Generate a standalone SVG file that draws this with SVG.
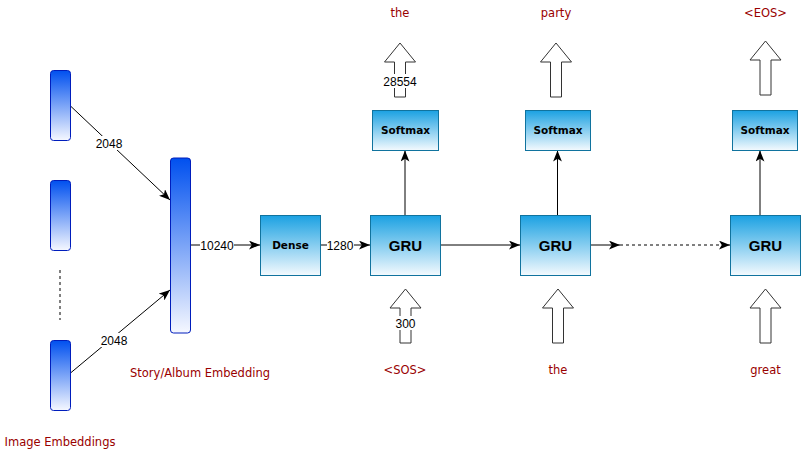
<svg xmlns="http://www.w3.org/2000/svg" width="801" height="461" viewBox="0 0 801 461">
  <defs>
    <linearGradient id="boxGrad" x1="0" y1="0" x2="0" y2="1">
      <stop offset="0" stop-color="#1BA1E2"/>
      <stop offset="1" stop-color="#F4FAFE"/>
    </linearGradient>
    <linearGradient id="barGrad" x1="0" y1="0" x2="0" y2="1">
      <stop offset="0" stop-color="#0050EF"/>
      <stop offset="1" stop-color="#F6F8FF"/>
    </linearGradient>
    <marker id="arrow" markerUnits="userSpaceOnUse" markerWidth="11" markerHeight="9" refX="10" refY="4" orient="auto" viewBox="0 0 10 8">
      <path d="M0,0 L10,4 L0,8 L2.5,4 Z" fill="#000"/>
    </marker>
    <path id="blockArrow" d="M0,0 L15.5,19 L5.5,19 L5.5,54 L-5.5,54 L-5.5,19 L-15.5,19 Z"/>
  </defs>
  <style>
    .bar { fill: url(#barGrad); stroke: #001DBC; stroke-width: 1; }
    .box { fill: url(#boxGrad); stroke: #10739E; stroke-width: 1; }
    .conn { stroke: #000; stroke-width: 1; fill: none; }
    .bigarrow { fill: #fff; stroke: #333; stroke-width: 1; }
    .red { font-family: "DejaVu Sans", sans-serif; font-size: 11.5px; fill: #990000; text-anchor: middle; }
    .num { font-family: "Liberation Sans", Arial, sans-serif; font-size: 12px; fill: #000; text-anchor: middle; }
    .small { font-family: "DejaVu Sans", sans-serif; font-size: 10.5px; font-weight: bold; fill: #000; text-anchor: middle; }
    .gru { font-family: "Liberation Sans", Arial, sans-serif; font-size: 15px; font-weight: bold; fill: #000; text-anchor: middle; }
    .bg { fill: #fff; }
  </style>

  <rect width="801" height="461" fill="#fff"/>

  <!-- connectors -->
  <g id="connectors">
    <line class="conn" x1="70.5" y1="106" x2="170" y2="200" stroke="#555" marker-end="url(#arrow)"/>
    <rect class="bg" x="93" y="136" width="32" height="14"/>
    <text class="num" x="109" y="147.5">2048</text>

    <line class="conn" x1="70.5" y1="373" x2="170" y2="290" marker-end="url(#arrow)"/>
    <rect class="bg" x="98" y="333" width="32" height="14"/>
    <text class="num" x="114" y="344.5">2048</text>

    <line class="conn" x1="190" y1="245" x2="260" y2="245" marker-end="url(#arrow)"/>
    <rect class="bg" x="200" y="238" width="34" height="14"/>
    <text class="num" x="217" y="249.5">10240</text>

    <line class="conn" x1="320.5" y1="245" x2="370" y2="245" marker-end="url(#arrow)"/>
    <rect class="bg" x="327" y="238" width="27" height="14"/>
    <text class="num" x="340" y="249.5">1280</text>

    <line class="conn" x1="440.5" y1="245" x2="520" y2="245" marker-end="url(#arrow)"/>
    <line class="conn" x1="590.5" y1="245" x2="620" y2="245" marker-end="url(#arrow)"/>
    <line class="conn" x1="620" y1="245" x2="730" y2="245" stroke-dasharray="3,3" marker-end="url(#arrow)"/>

    <line class="conn" x1="405" y1="215" x2="405" y2="150.5" marker-end="url(#arrow)"/>
    <line class="conn" x1="557.5" y1="215" x2="557.5" y2="150.5" marker-end="url(#arrow)"/>
    <line class="conn" x1="760" y1="215" x2="760" y2="150.5" marker-end="url(#arrow)"/>

    <line x1="60" y1="270" x2="60" y2="320" stroke="#000" stroke-width="1" stroke-dasharray="3,3"/>
  </g>

  <!-- image embedding bars -->
  <g id="img-emb-1"><rect class="bar" x="50.5" y="70.5" width="20" height="70" rx="3"/></g>
  <g id="img-emb-2"><rect class="bar" x="50.5" y="180.5" width="20" height="70" rx="3"/></g>
  <g id="img-emb-n"><rect class="bar" x="50.5" y="340.5" width="20" height="70" rx="3"/></g>
  <g id="image-embeddings-label"><text class="red" x="60" y="446">Image Embeddings</text></g>

  <!-- story embedding -->
  <g id="story-emb">
    <rect class="bar" x="170.5" y="158" width="20" height="175" rx="3"/>
    <text class="red" x="200" y="377">Story/Album Embedding</text>
  </g>

  <!-- dense -->
  <g id="dense">
    <rect class="box" x="260.5" y="215.5" width="60" height="60"/>
    <text class="small" x="290.5" y="249">Dense</text>
  </g>

  <!-- GRUs -->
  <g id="gru1">
    <rect class="box" x="370.5" y="215.5" width="70" height="60"/>
    <text class="gru" x="405.5" y="251">GRU</text>
  </g>
  <g id="gru2">
    <rect class="box" x="520.5" y="215.5" width="70" height="60"/>
    <text class="gru" x="555.5" y="251">GRU</text>
  </g>
  <g id="gru3">
    <rect class="box" x="730.5" y="215.5" width="70" height="60"/>
    <text class="gru" x="765.5" y="251">GRU</text>
  </g>

  <!-- softmax -->
  <g id="softmax1">
    <rect class="box" x="372.5" y="110.5" width="66" height="40"/>
    <text class="small" x="405.5" y="134">Softmax</text>
  </g>
  <g id="softmax2">
    <rect class="box" x="525.5" y="110.5" width="65" height="40"/>
    <text class="small" x="558" y="134">Softmax</text>
  </g>
  <g id="softmax3">
    <rect class="box" x="732.5" y="110.5" width="65" height="40"/>
    <text class="small" x="765" y="134">Softmax</text>
  </g>

  <!-- output block arrows -->
  <g id="out1">
    <use href="#blockArrow" class="bigarrow" x="400" y="43"/>
    <rect class="bg" x="382" y="74" width="36" height="14"/>
    <text class="num" x="400" y="85.5">28554</text>
    <text class="red" x="400" y="17">the</text>
  </g>
  <g id="out2">
    <use href="#blockArrow" class="bigarrow" x="556" y="43"/>
    <text class="red" x="556" y="17">party</text>
  </g>
  <g id="out3">
    <use href="#blockArrow" class="bigarrow" x="765.5" y="41"/>
    <text class="red" x="765.5" y="17">&lt;EOS&gt;</text>
  </g>

  <!-- input block arrows -->
  <g id="in1">
    <use href="#blockArrow" class="bigarrow" x="405.5" y="289"/>
    <rect class="bg" x="393" y="316" width="25" height="14"/>
    <text class="num" x="405.5" y="327.5">300</text>
    <text class="red" x="405" y="374">&lt;SOS&gt;</text>
  </g>
  <g id="in2">
    <use href="#blockArrow" class="bigarrow" x="558" y="289"/>
    <text class="red" x="558" y="374">the</text>
  </g>
  <g id="in3">
    <use href="#blockArrow" class="bigarrow" x="765.5" y="289"/>
    <text class="red" x="765.5" y="374">great</text>
  </g>
</svg>
